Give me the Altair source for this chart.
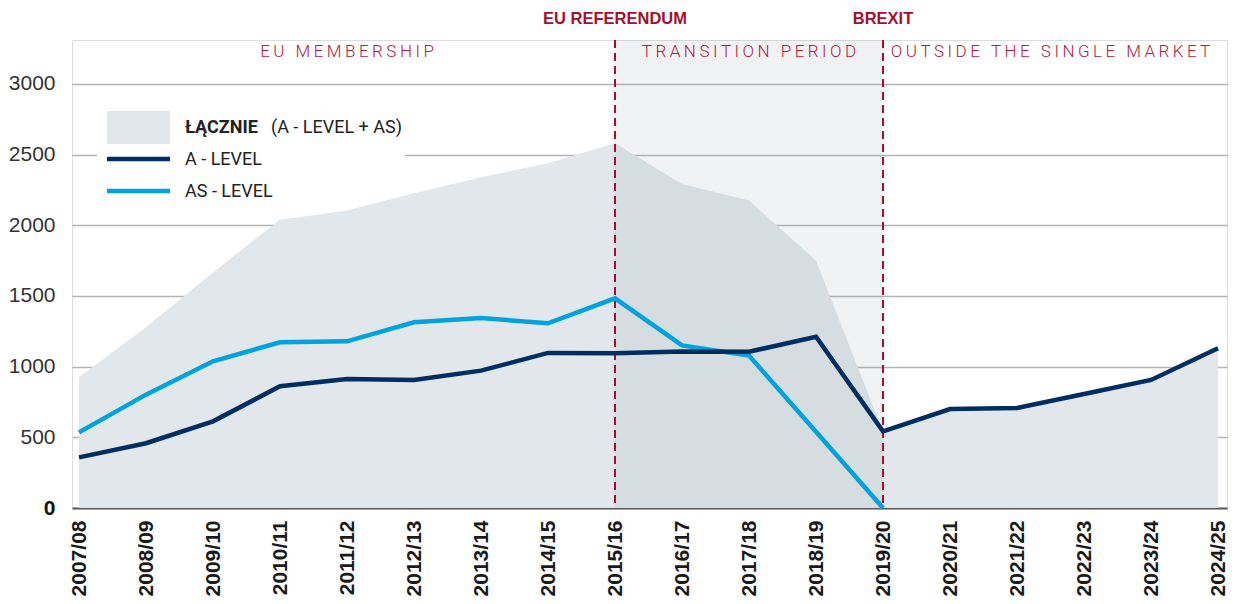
import json
import altair as alt
import pandas as pd

# ---------------- data ----------------
seasons = ["2007/08", "2008/09", "2009/10", "2010/11", "2011/12", "2012/13",
           "2013/14", "2014/15", "2015/16", "2016/17", "2017/18", "2018/19",
           "2019/20", "2020/21", "2021/22", "2022/23", "2023/24", "2024/25"]
total = [925, 1278, 1667, 2040, 2104, 2226, 2340, 2439, 2580, 2292, 2175, 1750,
         540, 700, 708, 807, 906, 1130]
a_level = [358, 458, 613, 861, 913, 906, 972, 1097, 1094, 1108, 1105, 1212,
           542, 700, 708, 807, 906, 1130]
as_level = [535, 802, 1038, 1172, 1179, 1314, 1344, 1307, 1483, 1150, 1078, 540,
            0, None, None, None, None, None]
y_ticks = [0, 500, 1000, 1500, 2000, 2500, 3000]
event_labels = ["EU REFERENDUM", "BREXIT"]
event_seasons = ["2015/16", "2019/20"]
period_labels = ["EU MEMBERSHIP", "TRANSITION PERIOD", "OUTSIDE THE SINGLE MARKET"]
period_bounds = [("2007/08", "2015/16"), ("2015/16", "2019/20"), ("2019/20", "2024/25")]
legend_total_bold = "ŁĄCZNIE"
legend_total_rest = "(A - LEVEL + AS)"
series_names = ["A - LEVEL", "AS - LEVEL"]

# ---------------- styles ----------------
W, H = 1155, 468
RED = "#a50f2d"
NAVY = "#002d62"
SKY = "#00a3dd"
AREA = "#e1e7ea"
THIN = "\u2009"

idx = list(range(len(seasons)))
area_df = pd.DataFrame({"idx": idx, "value": total})
lines_df = pd.DataFrame(
    [{"idx": i, "value": v, "series": series_names[0]} for i, v in zip(idx, a_level)] +
    [{"idx": i, "value": v, "series": series_names[1]} for i, v in zip(idx, as_level) if v is not None]
)
band_df = pd.DataFrame({"idx": [seasons.index(period_bounds[1][0])],
                        "idx2": [seasons.index(period_bounds[1][1])]})
event_df = pd.DataFrame({"idx": [seasons.index(s) for s in event_seasons],
                         "label": event_labels})
period_df = pd.DataFrame({
    "idx": [(seasons.index(a) + seasons.index(b)) / 2 for a, b in period_bounds],
    "label": [THIN.join(list(p)) for p in period_labels],
})
one = pd.DataFrame({"k": [0]})

label_expr = json.dumps(seasons) + "[datum.value]"

X = alt.X("idx:Q",
          scale=alt.Scale(domain=[-0.1045, 17.134], nice=False, zero=False),
          axis=alt.Axis(values=idx, labelExpr=label_expr, title=None, grid=False,
                        ticks=False, domain=True, domainColor="#5c5c5c", domainWidth=2,
                        labelAngle=270, labelAlign="right", labelBaseline="middle",
                        labelPadding=12, labelFontSize=21, labelFontWeight="bold",
                        labelFont="Liberation Sans", labelColor="#1a1a1a",
                        labelOverlap=False, labelBound=False, labelFlush=False))
Y = alt.Y("value:Q",
          scale=alt.Scale(domain=[0, 3311], nice=False, zero=True),
          axis=alt.Axis(values=y_ticks, format="d", title=None, grid=True, gridColor="#b4b4b4",
                        gridWidth=1.5, domain=False, ticks=False, labelPadding=17,
                        labelFontSize=21, labelFont="Liberation Sans",
                        labelColor=alt.condition("datum.value == 0", alt.value("#111111"), alt.value("#333333")),
                        labelFontWeight=alt.condition("datum.value == 0", alt.value("bold"), alt.value("normal"))))

legend_bg = alt.Chart(one).mark_rect(color="white").encode(
    x=alt.value(25), x2=alt.value(333), y=alt.value(60), y2=alt.value(165))

area = alt.Chart(area_df).mark_area(color=AREA, opacity=1, interpolate="linear").encode(x=X, y=Y)

band = alt.Chart(band_df).mark_rect(color="rgb(140,150,160)", opacity=0.12).encode(
    x=X, x2="idx2:Q", y=alt.value(0), y2=alt.value(H))

rules = alt.Chart(event_df).mark_rule(color=RED, strokeWidth=2, strokeDash=[8, 5]).encode(
    x=X, y=alt.value(0), y2=alt.value(H))

line_as = alt.Chart(lines_df).transform_filter(
    alt.datum.series == series_names[1]).mark_line(color=SKY, strokeWidth=4.5).encode(x=X, y=Y)
line_a = alt.Chart(lines_df).transform_filter(
    alt.datum.series == series_names[0]).mark_line(color=NAVY, strokeWidth=4.5).encode(x=X, y=Y)

event_text = alt.Chart(event_df).mark_text(
    color=RED, fontSize=16.5, fontWeight="bold", font="Liberation Sans", baseline="middle",
    align="center").encode(x=X, y=alt.value(-21), text="label:N")

period_text = alt.Chart(period_df).mark_text(
    color="#b0203e", fontSize=17, fontWeight=300, font="Roboto", baseline="middle",
    align="center").encode(x=X, y=alt.value(12), text="label:N")

leg_font = dict(font="Roboto", fontSize=18, color="#222222", align="left", baseline="middle")
leg_swatch = alt.Chart(one).mark_rect(color=AREA).encode(
    x=alt.value(35), x2=alt.value(98), y=alt.value(71), y2=alt.value(104))
leg_t1 = alt.Chart(one).mark_text(fontWeight="bold", **leg_font).encode(
    x=alt.value(113), y=alt.value(88), text=alt.value(legend_total_bold))
leg_t2 = alt.Chart(one).mark_text(**leg_font).encode(
    x=alt.value(199), y=alt.value(88), text=alt.value(legend_total_rest))
leg_l1 = alt.Chart(one).mark_rule(color=NAVY, strokeWidth=4.5).encode(
    x=alt.value(35), x2=alt.value(98), y=alt.value(119))
leg_t3 = alt.Chart(one).mark_text(**leg_font).encode(
    x=alt.value(113), y=alt.value(120), text=alt.value(series_names[0]))
leg_l2 = alt.Chart(one).mark_rule(color=SKY, strokeWidth=4.5).encode(
    x=alt.value(35), x2=alt.value(98), y=alt.value(151))
leg_t4 = alt.Chart(one).mark_text(**leg_font).encode(
    x=alt.value(113), y=alt.value(152), text=alt.value(series_names[1]))

chart = alt.layer(
    legend_bg, area, band, rules, line_as, line_a, event_text, period_text,
    leg_swatch, leg_t1, leg_t2, leg_l1, leg_t3, leg_l2, leg_t4
).properties(
    width=W, height=H,
    autosize=alt.AutoSizeParams(type="none"),
    padding={"left": 64, "top": 32, "right": 2, "bottom": 88},
).configure_view(stroke=None).configure(background="white")

chart.save("out.html", embed_options={"renderer": "svg", "actions": False})
